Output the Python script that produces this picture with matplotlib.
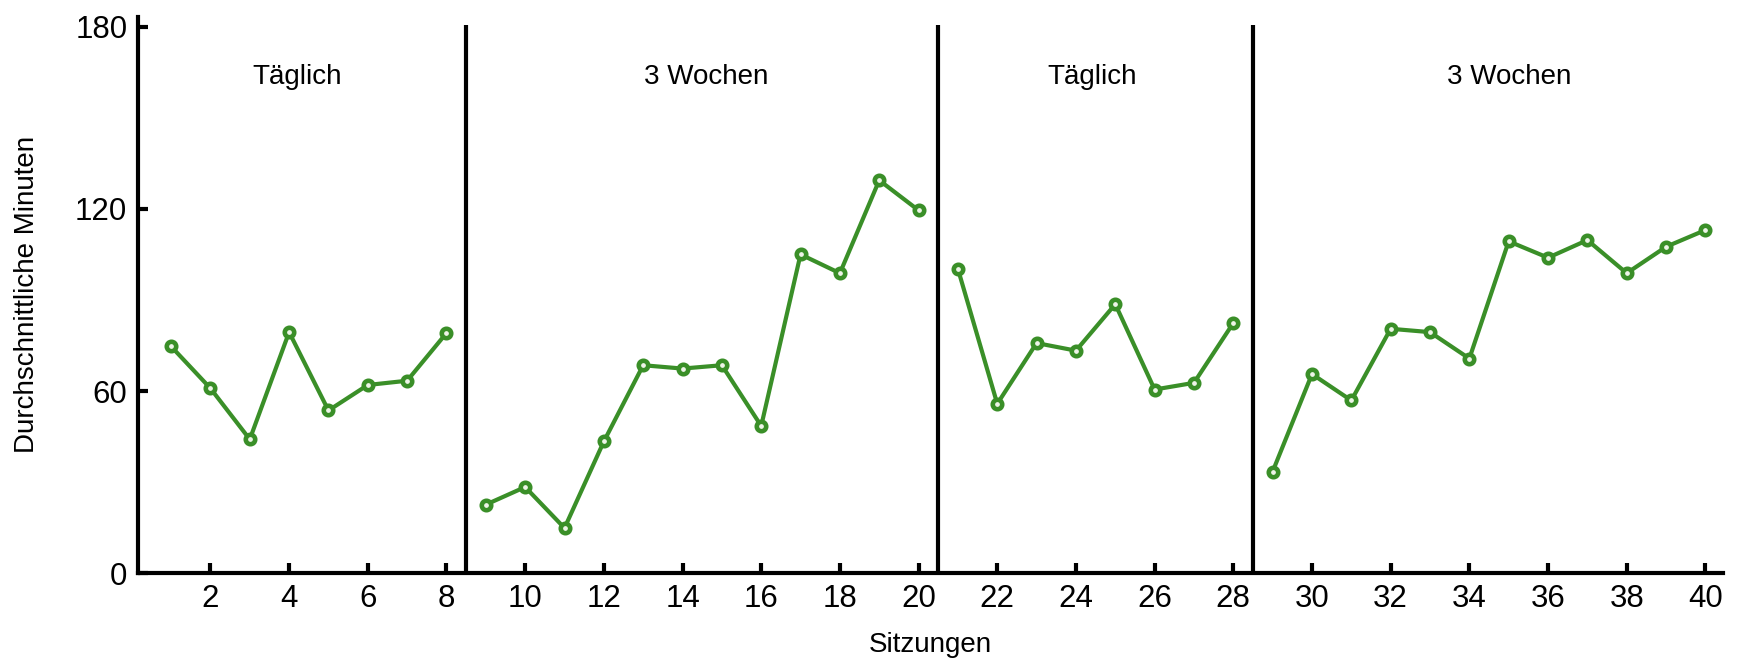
import matplotlib
matplotlib.use("Agg")
import matplotlib.pyplot as plt

plt.rcParams['font.family'] = ['Liberation Sans', 'DejaVu Sans']

sessions = list(range(1, 41))
minutes = [74.7, 60.9, 44.1, 79.4, 53.6, 62.0, 63.4, 79.1,
           22.6, 28.4, 14.9, 43.4, 68.5, 67.4, 68.5, 48.5, 105.0, 98.8, 129.4, 119.5,
           100.2, 55.8, 75.8, 73.3, 88.6, 60.5, 62.7, 82.4,
           33.5, 65.6, 56.9, 80.5, 79.4, 70.7, 109.3, 103.9, 109.7, 98.8, 107.5, 113.0]
phase_breaks = [8.5, 20.5, 28.5]
phase_labels = ['Täglich', '3 Wochen', 'Täglich', '3 Wochen']
phase_label_x = [4.2, 14.6, 24.4, 35.0]
phase_label_y = 163.5
xticks = list(range(2, 41, 2))
yticks = [0, 60, 120, 180]

green = '#3a8f28'

fig = plt.figure(figsize=(17.37, 6.62), dpi=100)
ax = fig.add_axes([0.0797, 0.134, 0.9123, 0.841])

bounds = [0] + phase_breaks + [41]
for lo, hi in zip(bounds[:-1], bounds[1:]):
    xs = [s for s in sessions if lo < s < hi]
    ys = [minutes[s - 1] for s in xs]
    ax.plot(xs, ys, color=green, lw=3.0, marker='o', ms=6.8,
            mfc='#eef4e8', mec=green, mew=3.3, zorder=3)

ax.vlines(phase_breaks, 0, 180.5, color='black', lw=3)

for lx, lab in zip(phase_label_x, phase_labels):
    ax.text(lx, phase_label_y, lab, ha='center', va='center', fontsize=20)

ax.set_xlim(0.17, 40.45)
ax.set_ylim(0, 183.3)
ax.set_xticks(xticks)
ax.set_yticks(yticks)
ax.tick_params(direction='in', length=7, width=3, labelsize=22.5, pad=8)
for side in ['top', 'right']:
    ax.spines[side].set_visible(False)
for side in ['left', 'bottom']:
    ax.spines[side].set_linewidth(3)

ax.set_xlabel('Sitzungen', fontsize=20, labelpad=13)
ax.set_ylabel('Durchschnittliche Minuten', fontsize=20, labelpad=25)

fig.savefig('out.png', dpi=100)
